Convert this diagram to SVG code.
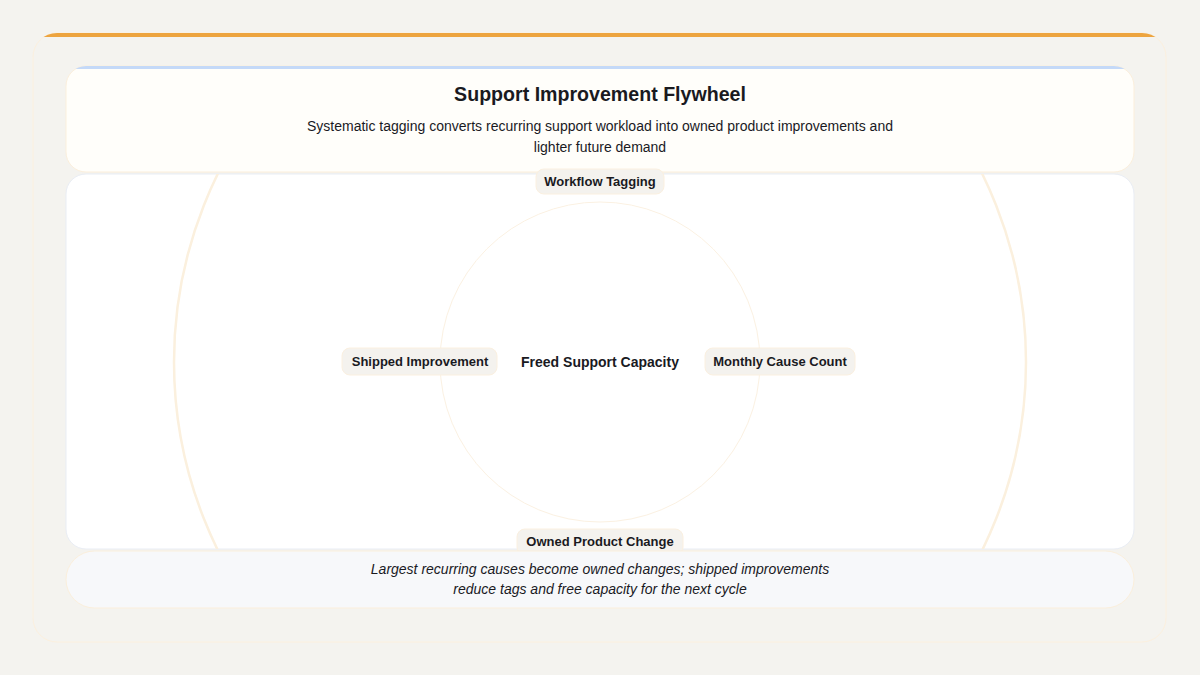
<svg xmlns="http://www.w3.org/2000/svg" width="1200" height="675" viewBox="0 0 1200 675">
<style>
.t{font-family:"Liberation Sans",Arial,sans-serif;fill:#1a1a1f;text-anchor:middle}
.title{font-size:19.6px;font-weight:700}
.sub{font-size:14px}
.lbl{font-size:13px;font-weight:700}
.hub{font-size:14px;font-weight:700}
.foot{font-size:14px;font-style:italic}
.pill{fill:#f4f2ee;stroke:#fbf0e0;stroke-width:1}
</style>
<defs>
<clipPath id="outerClip"><rect x="33" y="33" width="1133" height="609" rx="24"/></clipPath>
<clipPath id="headClip"><rect x="66" y="66" width="1068" height="106" rx="20"/></clipPath>
<clipPath id="mainClip"><rect x="66" y="174" width="1068" height="375" rx="20"/></clipPath>
</defs>
<rect width="1200" height="675" fill="#f4f3ef"/>
<g id="frame">
<rect x="33" y="33" width="1133" height="609" rx="24" fill="#f4f3ef" stroke="#fcf0de" stroke-width="1"/>
<rect x="33" y="33" width="1133" height="4" fill="#eda43f" clip-path="url(#outerClip)"/>
</g>
<g id="header">
<rect x="66" y="66" width="1068" height="106" rx="20" fill="#fffefa" stroke="#fbefdc" stroke-width="1"/>
<rect x="66" y="66" width="1068" height="3" fill="#c4d9f8" clip-path="url(#headClip)"/>
<text class="t title" x="600" y="101">Support Improvement Flywheel</text>
<text class="t sub" x="600" y="131">Systematic tagging converts recurring support workload into owned product improvements and</text>
<text class="t sub" x="600" y="152">lighter future demand</text>
</g>
<g id="panel">
<rect x="66" y="174" width="1068" height="375" rx="20" fill="#ffffff" stroke="#e9edf4" stroke-width="1"/>
</g>
<g id="connectors" clip-path="url(#mainClip)">
<circle cx="600" cy="362" r="426" fill="none" stroke="#fbf0de" stroke-width="2.5"/>
<circle cx="600" cy="362" r="160" fill="none" stroke="#fbf1e2" stroke-width="1"/>
</g>
<g id="workflow-tagging">
<rect class="pill" x="536" y="169" width="128" height="25" rx="8"/>
<text class="t lbl" x="600" y="186">Workflow Tagging</text>
</g>
<g id="monthly-cause-count">
<rect class="pill" x="705" y="348" width="150" height="27" rx="8"/>
<text class="t lbl" x="780" y="366">Monthly Cause Count</text>
</g>
<g id="shipped-improvement">
<rect class="pill" x="342" y="348" width="155" height="27" rx="8"/>
<text class="t lbl" x="420" y="366">Shipped Improvement</text>
</g>
<g id="owned-product-change">
<rect class="pill" x="517" y="529" width="166" height="26" rx="8"/>
<text class="t lbl" x="600" y="546">Owned Product Change</text>
</g>
<g id="freed-support-capacity">
<text class="t hub" x="600" y="367">Freed Support Capacity</text>
</g>
<g id="footer">
<rect x="66" y="551" width="1068" height="57" rx="28.5" fill="#f7f8fa" stroke="#fbefdc" stroke-width="1"/>
<text class="t foot" x="600" y="574">Largest recurring causes become owned changes; shipped improvements</text>
<text class="t foot" x="600" y="594">reduce tags and free capacity for the next cycle</text>
</g>
</svg>
